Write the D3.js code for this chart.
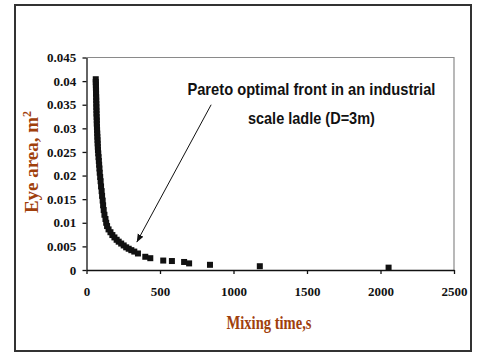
<!DOCTYPE html>
<html>
<head>
<meta charset="utf-8">
<script src="https://cdn.jsdelivr.net/npm/d3@7"></script>
<style>
  body { margin: 0; background: #fff; }
  svg { display: block; }
</style>
</head>
<body>
<div id="chart"></div>
<script>
// Pareto front points: mixing time (s) vs eye area (m^2)
const mixingTime = [63, 63, 64, 64, 65, 65, 66, 66, 67, 67, 68, 68, 69, 70, 70, 71, 72, 73, 74, 75,
  76, 77, 78, 80, 82, 84, 86, 88, 90, 93, 96, 99, 103, 106, 110, 113, 117, 122, 129, 134,
  140, 150, 163, 176, 190, 205, 219, 236, 253, 270, 287, 305, 325, 350, 400, 434,
  522, 581, 664, 698, 840, 1179, 2055];
const eyeArea = [0.0404, 0.0398, 0.0392, 0.0386, 0.0380, 0.0373, 0.0366, 0.0359, 0.0352, 0.0345, 0.0338, 0.0331, 0.0324, 0.0317, 0.0310, 0.0303, 0.0296, 0.0289, 0.0282, 0.0275,
  0.0268, 0.0261, 0.0254, 0.0247, 0.0239, 0.0231, 0.0223, 0.0215, 0.0206, 0.0197, 0.0188, 0.0177, 0.0167, 0.0157, 0.0147, 0.0137, 0.0127, 0.0117, 0.0108, 0.0100,
  0.0093, 0.0086, 0.0080, 0.0074, 0.0069, 0.0064, 0.0060, 0.0056, 0.0052, 0.0048, 0.0045, 0.0042, 0.0039, 0.0035, 0.0028, 0.0025,
  0.0020, 0.0019, 0.0017, 0.0014, 0.0011, 0.0008, 0.0005];

const xTicks = [0, 500, 1000, 1500, 2000, 2500];
const yTicks = [0, 0.005, 0.01, 0.015, 0.02, 0.025, 0.03, 0.035, 0.04, 0.045];

const noteLines = ["Pareto optimal  front in an industrial", "scale ladle (D=3m)"];
const noteText = {x: 1530, y: 0.0370};   // centre of the first line, data units
const arrowFrom = {x: 848, y: 0.0350};
const arrowTo = {x: 342, y: 0.0059};

const width = 477, height = 352;
const margin = {top: 57.5, right: 23, bottom: 82, left: 86.5};

const svg = d3.select("#chart").append("svg")
    .attr("width", width)
    .attr("height", height);

// outer chart frame
svg.append("rect")
    .attr("x", 15).attr("y", 5)
    .attr("width", 456).attr("height", 346)
    .attr("fill", "none")
    .attr("stroke", "#333")
    .attr("stroke-width", 2);

const x = d3.scaleLinear().domain([0, 2500]).range([margin.left, width - margin.right]);
const y = d3.scaleLinear().domain([0, 0.045]).range([height - margin.bottom, margin.top]);

// plot area border (top and right in gray)
svg.append("path")
    .attr("d", `M${x(0)},${y(0.045)}H${x(2500)}V${y(0)}`)
    .attr("fill", "none")
    .attr("stroke", "#8a8a8a")
    .attr("stroke-width", 1.2);

const tickFont = "bold 13px 'Liberation Serif', 'Times New Roman', serif";

const xAxis = svg.append("g")
    .attr("transform", `translate(0,${y(0)})`)
    .call(d3.axisBottom(x).tickValues(xTicks).tickSize(4).tickSizeOuter(0).tickFormat(d3.format("d")));
xAxis.selectAll("text").attr("dy", "1.45em");

const yAxis = svg.append("g")
    .attr("transform", `translate(${x(0)},0)`)
    .call(d3.axisLeft(y).tickValues(yTicks).tickSize(4).tickSizeOuter(0).tickFormat(d => d === 0 ? "0" : String(+d.toFixed(3))));
yAxis.selectAll("text").attr("dx", "-0.25em");

svg.selectAll(".tick text")
    .style("font", tickFont)
    .attr("fill", "#111");
svg.selectAll(".domain, .tick line")
    .attr("stroke", "#111")
    .attr("stroke-width", 1.3);

// markers
const size = 6;
svg.append("g")
    .selectAll("rect")
    .data(mixingTime.map((t, i) => ({t, a: eyeArea[i]})))
    .join("rect")
    .attr("x", d => x(d.t) - size / 2)
    .attr("y", d => y(d.a) - size / 2)
    .attr("width", size)
    .attr("height", size)
    .attr("fill", "#111");

// axis titles
const titleColor = "#a0400c";
svg.append("text")
    .attr("x", 269).attr("y", 329)
    .attr("text-anchor", "middle")
    .attr("textLength", 85)
    .attr("lengthAdjust", "spacingAndGlyphs")
    .style("font", "bold 19px 'Liberation Serif', 'Times New Roman', serif")
    .attr("fill", titleColor)
    .text("Mixing time,s");

const yTitle = svg.append("text")
    .attr("transform", "translate(38,162) rotate(-90)")
    .attr("text-anchor", "middle")
    .style("font", "bold 19px 'Liberation Serif', 'Times New Roman', serif")
    .attr("fill", titleColor);
yTitle.append("tspan").text("Eye area, m");
yTitle.append("tspan").attr("dy", "-0.55em").style("font-size", "12px").text("2");

// annotation
svg.append("g")
    .selectAll("text")
    .data(noteLines)
    .join("text")
    .attr("x", x(noteText.x))
    .attr("y", (d, i) => y(noteText.y) + i * 29)
    .attr("text-anchor", "middle")
    .attr("textLength", (d, i) => i === 0 ? 248 : 127)
    .attr("lengthAdjust", "spacingAndGlyphs")
    .style("font", "bold 17px 'Liberation Sans', Arial, sans-serif")
    .attr("fill", "#111")
    .text(d => d);

svg.append("defs").append("marker")
    .attr("id", "arrow")
    .attr("viewBox", "0 -5 10 10")
    .attr("refX", 10)
    .attr("refY", 0)
    .attr("markerWidth", 8)
    .attr("markerHeight", 8)
    .attr("markerUnits", "userSpaceOnUse")
    .attr("orient", "auto")
    .append("path")
    .attr("fill", "#111")
    .attr("d", "M0,-4L10,0L0,4Z");

svg.append("line")
    .attr("x1", x(arrowFrom.x)).attr("y1", y(arrowFrom.y))
    .attr("x2", x(arrowTo.x)).attr("y2", y(arrowTo.y))
    .attr("stroke", "#111")
    .attr("stroke-width", 1)
    .attr("marker-end", "url(#arrow)");
</script>
</body>
</html>
